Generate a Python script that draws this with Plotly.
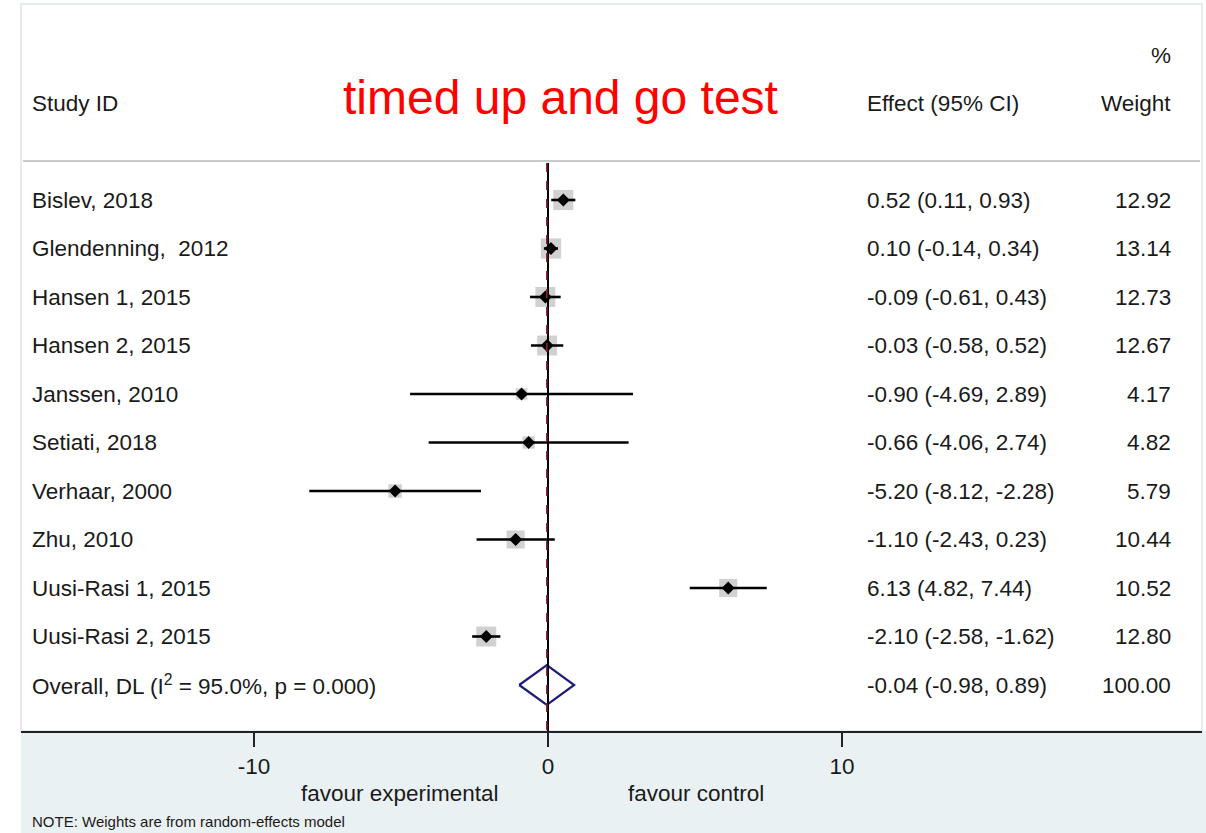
import numpy as np
import plotly.graph_objects as go

# ---- data -------------------------------------------------------------
studies = ["Bislev, 2018", "Glendenning,&nbsp; 2012", "Hansen 1, 2015", "Hansen 2, 2015",
           "Janssen, 2010", "Setiati, 2018", "Verhaar, 2000", "Zhu, 2010",
           "Uusi-Rasi 1, 2015", "Uusi-Rasi 2, 2015"]
effect = [0.52, 0.10, -0.09, -0.03, -0.90, -0.66, -5.20, -1.10, 6.13, -2.10]
ci_low = [0.11, -0.14, -0.61, -0.58, -4.69, -4.06, -8.12, -2.43, 4.82, -2.58]
ci_high = [0.93, 0.34, 0.43, 0.52, 2.89, 2.74, -2.28, 0.23, 7.44, -1.62]
weight = [12.92, 13.14, 12.73, 12.67, 4.17, 4.82, 5.79, 10.44, 10.52, 12.80]

overall_effect = -0.04
overall_low = -0.98
overall_high = 0.89
overall_weight = 100.00
overall_i2 = 95.0
overall_p = 0.000

tick_values = [-10, 0, 10]
tick_labels = ["-10", "0", "10"]

# ---- geometry ---------------------------------------------------------
W, H = 1206, 833
PLOT_L, PLOT_R, PLOT_T, PLOT_B = 21, 1202, 4, 731
X0_PX, PX_PER_UNIT = 548, 29.4          # pixel of effect 0, pixels per unit
ROW0_PX, ROW_STEP = 200, 48.5           # pixel of first row, row spacing

x_range = [(PLOT_L - X0_PX) / PX_PER_UNIT, (PLOT_R - X0_PX) / PX_PER_UNIT]
y_range = [(PLOT_B - ROW0_PX) / ROW_STEP, (PLOT_T - ROW0_PX) / ROW_STEP]  # reversed


# paper coordinates are relative to the plot area
def px_x(p):
    return (p - PLOT_L) / (PLOT_R - PLOT_L)


def px_y(p):
    return (PLOT_B - p) / (PLOT_B - PLOT_T)


def row_of_px(p):
    return (p - ROW0_PX) / ROW_STEP


FONT = "Arial, Liberation Sans, sans-serif"
TXT = "#1a1a1a"
FS = 22.5
rows = list(range(len(studies)))
overall_row = len(studies)

fig = go.Figure()

# weight squares (area proportional to weight)
fig.add_trace(go.Scatter(
    x=effect, y=rows, mode="markers",
    marker=dict(symbol="square", color="#bdbdbd",
                size=[5.6 * np.sqrt(v) for v in weight], line=dict(width=0)),
    hoverinfo="skip", showlegend=False))

# confidence intervals and point estimates
fig.add_trace(go.Scatter(
    x=effect, y=rows, mode="markers",
    marker=dict(symbol="diamond", color="black", size=10),
    error_x=dict(type="data", symmetric=False,
                 array=[h - e for h, e in zip(ci_high, effect)],
                 arrayminus=[e - l for e, l in zip(effect, ci_low)],
                 color="black", thickness=2.6, width=0),
    showlegend=False))

# pooled estimate diamond
half_h = 20 / ROW_STEP
fig.add_trace(go.Scatter(
    x=[overall_low, overall_effect, overall_high, overall_effect, overall_low],
    y=[overall_row, overall_row - half_h, overall_row, overall_row + half_h, overall_row],
    mode="lines", line=dict(color="#1c1c7c", width=2.2),
    hoverinfo="skip", showlegend=False))

shapes = [
    # lower graph region band
    dict(type="rect", xref="paper", yref="paper",
         x0=px_x(PLOT_L), x1=px_x(W), y0=px_y(H), y1=px_y(PLOT_B),
         fillcolor="#eaf1f3", line=dict(width=0), layer="below"),
    # faint frame of plot region
    dict(type="rect", xref="paper", yref="paper",
         x0=px_x(PLOT_L), x1=px_x(PLOT_R), y0=px_y(PLOT_B), y1=px_y(PLOT_T),
         line=dict(color="#e4ecef", width=2), layer="below"),
    # header separator
    dict(type="line", xref="paper", yref="paper",
         x0=px_x(23), x1=px_x(1200), y0=px_y(161), y1=px_y(161),
         line=dict(color="#c9c9c9", width=2)),
    # null line
    dict(type="line", xref="x", yref="y",
         x0=0, x1=0, y0=row_of_px(163), y1=y_range[0],
         line=dict(color="black", width=2)),
    # pooled effect line
    dict(type="line", xref="x", yref="y",
         x0=overall_effect, x1=overall_effect, y0=row_of_px(163), y1=y_range[0],
         line=dict(color="#8a2234", width=1.6, dash="dash")),
]

ann = []


def text(x, y, s, size=FS, xanchor="left", color=TXT, yref="y"):
    ann.append(dict(x=x, y=y, xref="paper", yref=yref, text=s, showarrow=False,
                    xanchor=xanchor, yanchor="middle",
                    font=dict(family=FONT, size=size, color=color)))


# header
text(px_x(30), px_y(103), "Study ID", yref="paper")
text(px_x(865), px_y(103), "Effect (95% CI)", yref="paper")
text(px_x(1173), px_y(103), "Weight", xanchor="right", yref="paper")
text(px_x(1173), px_y(55), "%", xanchor="right", yref="paper")
text(px_x(560), px_y(97), "timed up and go test", size=48, xanchor="center",
     color="#ff0000", yref="paper")

# study rows
for i, name in enumerate(studies):
    text(px_x(30), i, name)
    text(px_x(865), i, f"{effect[i]:.2f} ({ci_low[i]:.2f}, {ci_high[i]:.2f})")
    text(px_x(1173), i, f"{weight[i]:.2f}", xanchor="right")

# overall row
text(px_x(30), overall_row,
     f"Overall, DL (I<sup>2</sup> = {overall_i2:.1f}%, p = {overall_p:.3f})")
text(px_x(865), overall_row,
     f"{overall_effect:.2f} ({overall_low:.2f}, {overall_high:.2f})")
text(px_x(1173), overall_row, f"{overall_weight:.2f}", xanchor="right")

# axis captions and note
text(px_x(400), px_y(793), "favour experimental", xanchor="center", yref="paper")
text(px_x(696), px_y(793), "favour control", xanchor="center", yref="paper")
text(px_x(30), px_y(822), "NOTE: Weights are from random-effects model", size=15,
     yref="paper")

fig.update_layout(
    width=W, height=H,
    margin=dict(l=PLOT_L, r=W - PLOT_R, t=PLOT_T, b=H - PLOT_B, autoexpand=False),
    paper_bgcolor="white", plot_bgcolor="white",
    shapes=shapes, annotations=ann,
    xaxis=dict(range=x_range, tickvals=tick_values, ticktext=tick_labels,
               showgrid=False, zeroline=False, showline=True,
               linecolor="#222222", linewidth=2,
               ticks="outside", ticklen=14, tickwidth=1.5, tickcolor="#222222",
               tickfont=dict(family=FONT, size=FS, color=TXT)),
    yaxis=dict(range=y_range, visible=False, showgrid=False, zeroline=False),
    font=dict(family=FONT),
)

fig.write_html("out.html")
